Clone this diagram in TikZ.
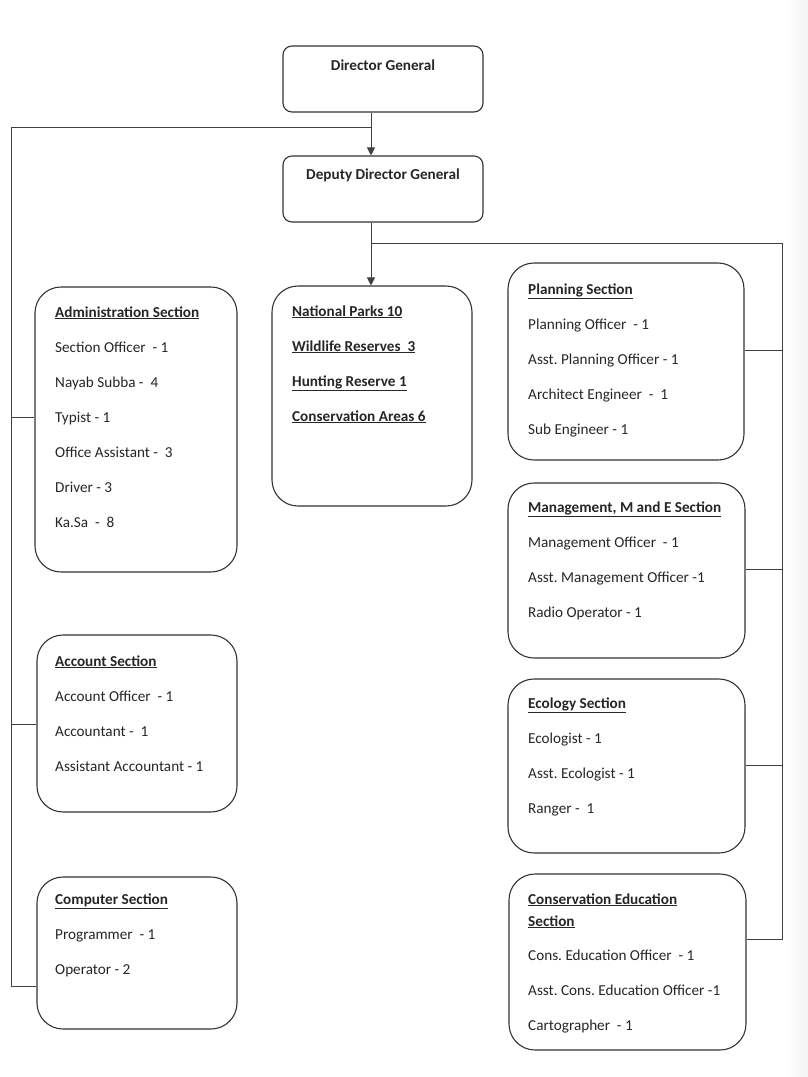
\documentclass[tikz,border=0pt]{standalone}
\usepackage{fontspec}
\setmainfont{Carlito}
\usetikzlibrary{arrows.meta}
\newcommand\secttitle[1]{\underline{\textbf{#1}}}
\frenchspacing
\begin{document}
\begin{tikzpicture}[x=1pt,y=-1pt,
  box/.style={draw=black!80, line width=1.1pt, rounded corners=26pt, inner sep=0pt},
  topbox/.style={box, rounded corners=9pt, minimum width=200pt, minimum height=66pt},
  link/.style={draw=black!75, line width=0.9pt},
  arr/.style={link, -{Triangle[length=8pt,width=8pt]}},
  txt/.style={anchor=base west, inner sep=0pt, font=\fontsize{15.2}{18}\selectfont, text=black!85},
  head/.style={txt, anchor=base, font=\fontsize{15.2}{18}\selectfont\bfseries},
]
\useasboundingbox (0,0) rectangle (808,1077);
\shade[left color=white, right color=black!5] (788,0) rectangle (808,1077);

% top of the chart
\node[topbox] (dg)  at (383,79)  {};
\node[topbox] (ddg) at (383,189) {};
\node[head] (dgt)  at (383,70)  {Director General};
\node[head] (ddgt) at (383,179) {Deputy Director General};

% section boxes
\node[box, minimum width=200pt, minimum height=220pt] (parks)    at (372,396)   {};
\node[box, minimum width=202pt, minimum height=285pt] (admin)    at (136,429.5) {};
\node[box, minimum width=200pt, minimum height=177pt] (account)  at (137,723.5) {};
\node[box, minimum width=200pt, minimum height=152pt] (computer) at (137,953)   {};
\node[box, minimum width=236pt, minimum height=197pt] (planning) at (626,361.5) {};
\node[box, minimum width=237pt, minimum height=175pt] (mgmt)     at (626.5,570.5) {};
\node[box, minimum width=237pt, minimum height=174pt] (ecology)  at (626.5,766) {};
\node[box, minimum width=237pt, minimum height=176pt] (consed)   at (627.5,962) {};

% connector skeleton
\coordinate (spine) at (371,0);
\coordinate (ltop) at (11,127);
\coordinate (lbot) at (11,986);
\coordinate (rtop) at (782,243);
\coordinate (rbot) at (782,939);
\coordinate (adminb) at (0,417);
\coordinate (accountb) at (0,724);
\coordinate (planb) at (0,350);
\coordinate (mgmtb) at (0,569);
\coordinate (ecob) at (0,765);

\draw[arr] (dg.south -| spine) -- (ddg.north -| spine);
\draw[arr] (ddg.south -| spine) -- (parks.north -| spine);
\draw[link] (spine |- ltop) -- (ltop) -- (lbot) -- (lbot -| computer.west);
\draw[link] (ltop |- adminb) -- (adminb -| admin.west);
\draw[link] (ltop |- accountb) -- (accountb -| account.west);
\draw[link] (spine |- rtop) -- (rtop) -- (rbot) -- (rbot -| consed.east);
\draw[link] (rtop |- planb) -- (planb -| planning.east);
\draw[link] (rtop |- mgmtb) -- (mgmtb -| mgmt.east);
\draw[link] (rtop |- ecob) -- (ecob -| ecology.east);

% protected areas
\foreach \t [count=\i from 0] in {National Parks 10, Wildlife Reserves~ 3, Hunting Reserve 1, Conservation Areas 6}
  \node[txt] (pa\i) at (292,316+35*\i) {\secttitle{\t}};

% administration
\node[txt] (admt) at (55,317) {\secttitle{Administration Section}};
\foreach \t [count=\i from 1] in {Section Officer~ - 1, Nayab Subba - ~4, Typist - 1, Office Assistant - ~3, Driver - 3, Ka.Sa~ - ~8}
  \node[txt] (adm\i) at (55,317+35*\i) {\t};

% account
\node[txt] (acct) at (55,666) {\secttitle{Account Section}};
\foreach \t [count=\i from 1] in {Account Officer~ - 1, Accountant - ~1, Assistant Accountant - 1}
  \node[txt] (acc\i) at (55,666+35*\i) {\t};

% computer
\node[txt] (comt) at (55,904) {\secttitle{Computer Section}};
\foreach \t [count=\i from 1] in {Programmer~ - 1, Operator - 2}
  \node[txt] (com\i) at (55,904+35*\i) {\t};

% planning
\node[txt] (plat) at (528,294) {\secttitle{Planning Section}};
\foreach \t [count=\i from 1] in {Planning Officer~ - 1, Asst. Planning Officer - 1, Architect Engineer~ - ~1, Sub Engineer - 1}
  \node[txt] (pla\i) at (528,294+35*\i) {\t};

% management
\node[txt] (mgtt) at (528,512) {\secttitle{Management, M and E Section}};
\foreach \t [count=\i from 1] in {Management Officer~ - 1, Asst. Management Officer -1, Radio Operator - 1}
  \node[txt] (mgt\i) at (528,512+35*\i) {\t};

% ecology
\node[txt] (ecot) at (528,708) {\secttitle{Ecology Section}};
\foreach \t [count=\i from 1] in {Ecologist - 1, Asst. Ecologist - 1, Ranger - ~1}
  \node[txt] (eco\i) at (528,708+35*\i) {\t};

% conservation education
\node[txt] (cedt) at (528,904) {\secttitle{Conservation Education}};
\node[txt] (ceds) at (528,926) {\secttitle{Section}};
\foreach \t [count=\i from 1] in {Cons. Education Officer~ - 1, Asst. Cons. Education Officer -1, Cartographer~ - 1}
  \node[txt] (ced\i) at (528,925+35*\i) {\t};
\end{tikzpicture}
\end{document}
